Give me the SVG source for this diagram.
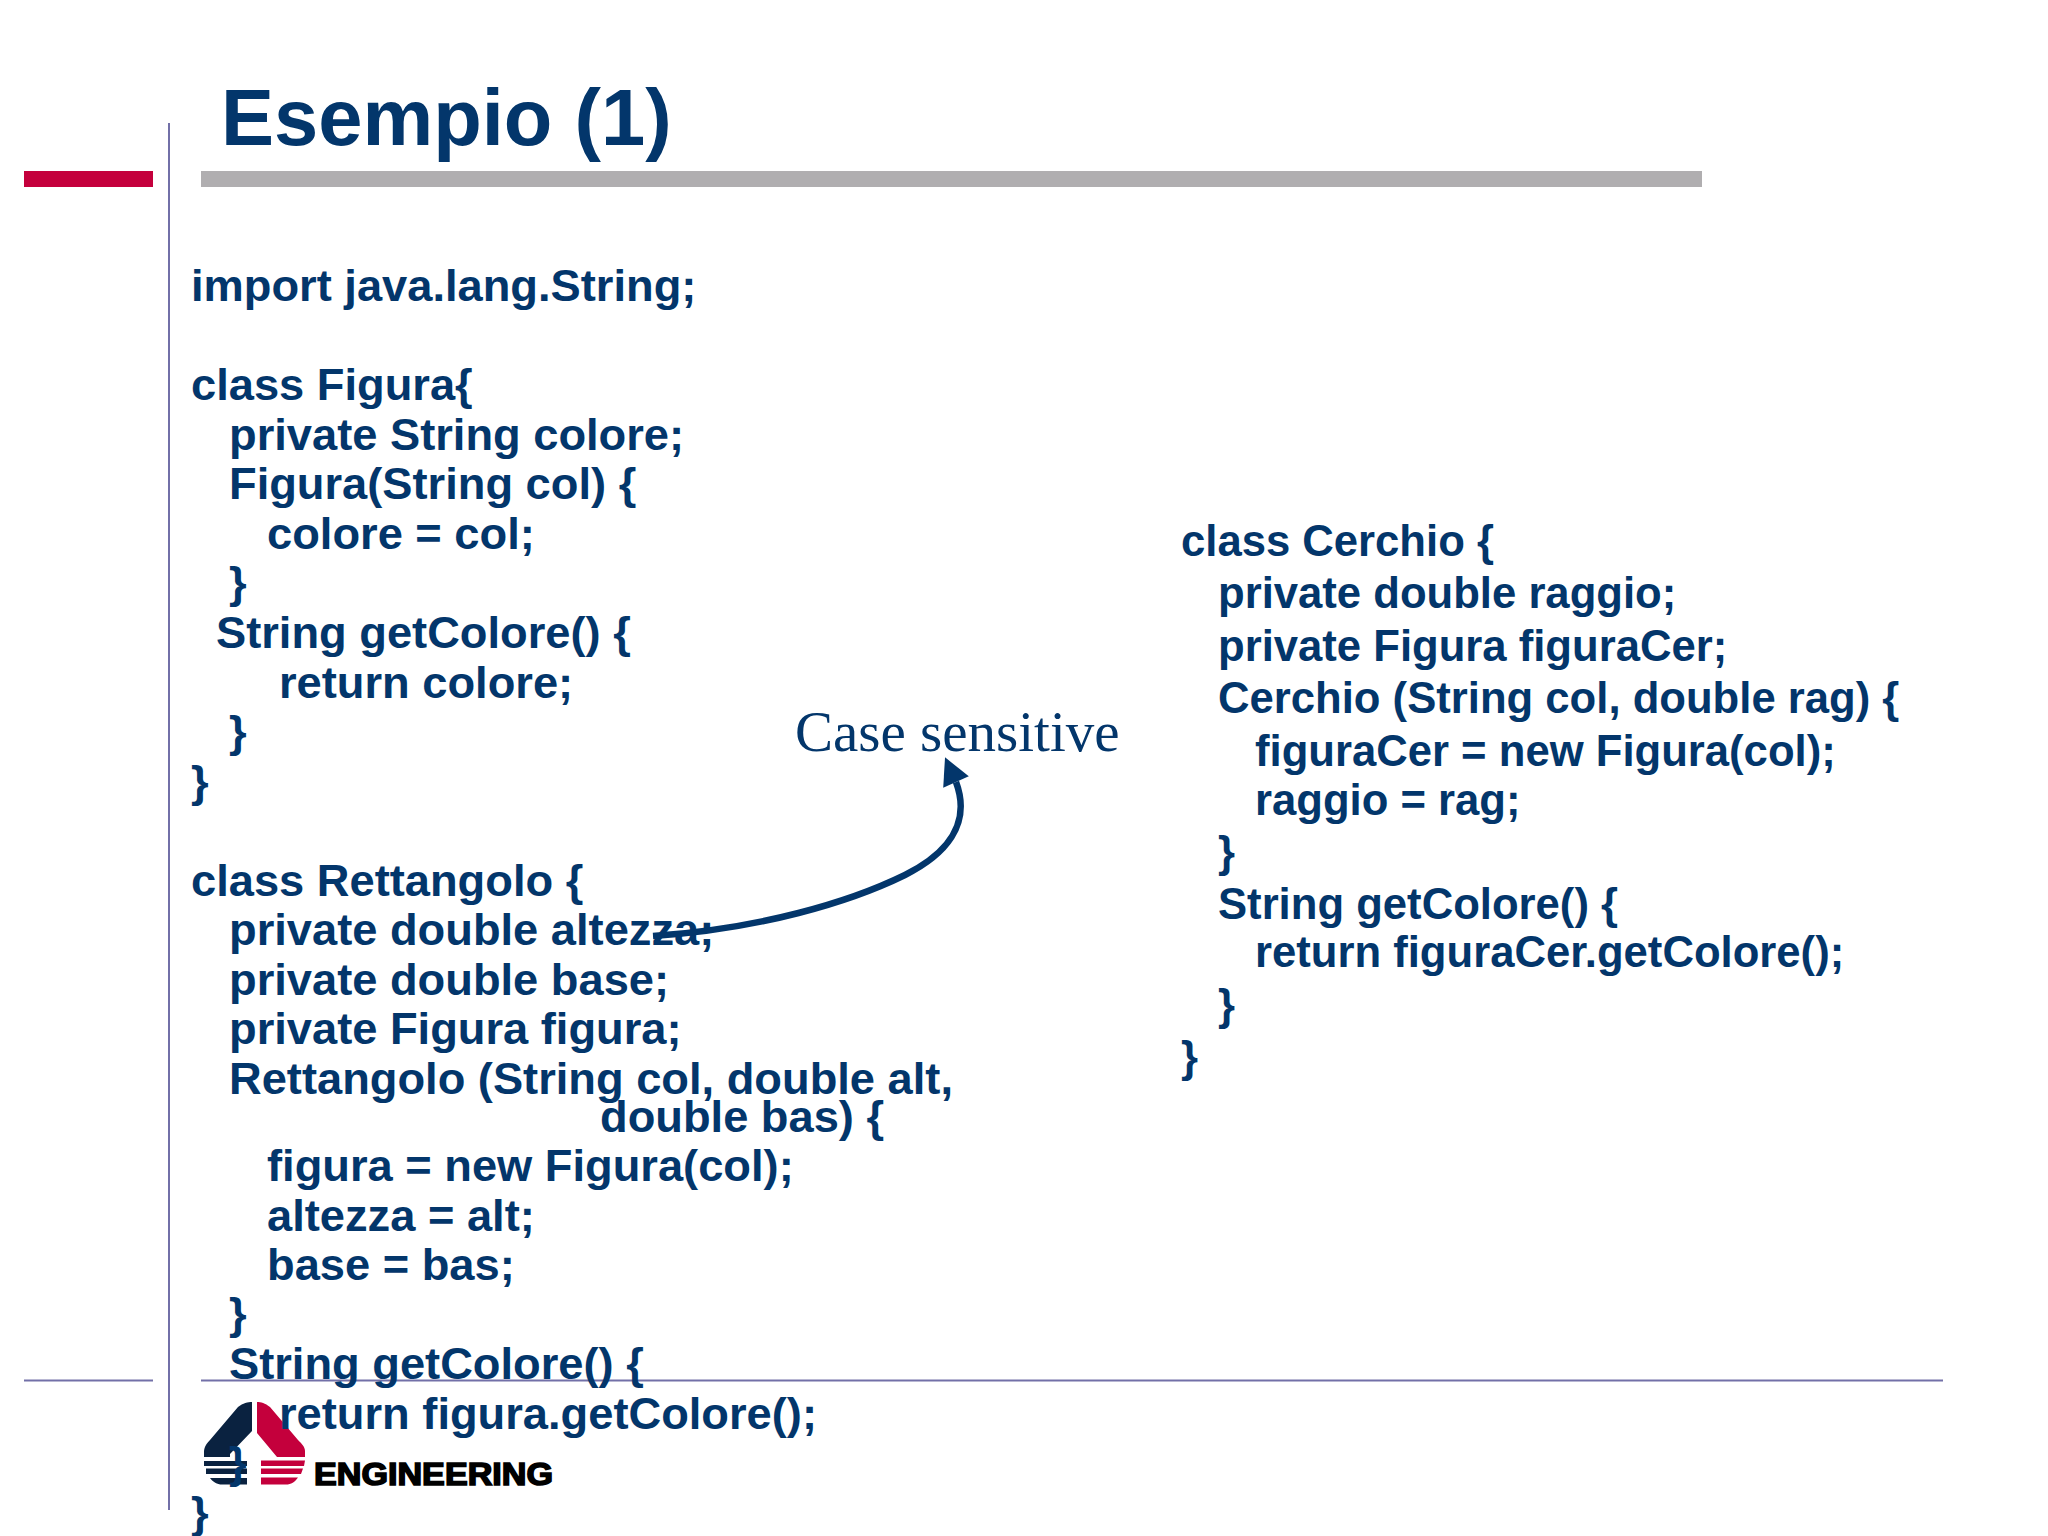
<svg xmlns="http://www.w3.org/2000/svg" width="2048" height="1536" viewBox="0 0 2048 1536">
<defs>
<style>
text{font-family:"Liberation Sans",Arial,sans-serif;font-weight:700;fill:#03366B}
.l{font-size:45.25px}
.r{font-size:43.65px}
.t{font-size:79.5px}
.s{font-family:"Liberation Serif","Times New Roman",serif;font-weight:400;font-size:57px}
.rule{stroke:#7270A8;stroke-width:2;fill:none}
</style>
<marker id="ah" markerUnits="userSpaceOnUse" markerWidth="30" markerHeight="32" refX="0" refY="15" orient="-114" overflow="visible"><path d="M0,1L27,15L0,29Z" fill="#03366B"/></marker>
</defs>
<rect width="2048" height="1536" fill="#fff"/>
<g id="frame">
<rect x="24" y="171" width="129" height="16" fill="#C4003C"/>
<rect x="201" y="171" width="1501" height="16" fill="#B0AEB0"/>
<path class="rule" d="M169,123V1510M24,1380.5H153M201,1380.5H1943"/>
</g>
<g id="logo">
<path fill="#0A2240" d="M252,1402V1431L230,1454V1457H204V1452C204,1447 207,1443 210,1440L238,1407C243,1403 248,1402 252,1402Z"/>
<path fill="#0A2240" d="M204,1461H247V1466H204ZM206,1468.5H247V1474H206ZM210,1478H247V1484.5H222C217,1484.5 213,1482 210,1478Z"/>
<path fill="#C4003C" d="M257,1402V1433L277,1457H305V1451C305,1447 302,1444 298,1440L270,1407C265,1403 261,1402 257,1402Z"/>
<path fill="#C4003C" d="M261,1460.5H305L304,1466H261ZM261,1468.5H303L301,1474H261ZM261,1477.5H298C295,1482 291,1484.5 286,1484.5H261Z"/>
<text x="314" y="1485" font-size="32" textLength="239" lengthAdjust="spacingAndGlyphs" style="fill:#000;stroke:#000;stroke-width:1.6">ENGINEERING</text>
</g>
<g id="title"><text class="t" x="221" y="145">Esempio (1)</text></g>
<g id="figura">
<text class="l" x="191" y="301">import java.lang.String;</text>
<text class="l" x="191" y="400">class Figura{</text>
<text class="l" x="229" y="450">private String colore;</text>
<text class="l" x="229" y="499">Figura(String col) {</text>
<text class="l" x="267" y="549">colore = col;</text>
<text class="l" x="229" y="598">}</text>
<text class="l" x="216" y="648">String getColore() {</text>
<text class="l" x="279" y="698">return colore;</text>
<text class="l" x="229" y="747">}</text>
<text class="l" x="191" y="797">}</text>
</g>
<g id="rettangolo">
<text class="l" x="191" y="896">class Rettangolo {</text>
<text class="l" x="229" y="945">private double altezza;</text>
<text class="l" x="229" y="995">private double base;</text>
<text class="l" x="229" y="1044">private Figura figura;</text>
<text class="l" x="229" y="1094">Rettangolo (String col, double alt,</text>
<text class="l" x="600" y="1132">double bas) {</text>
<text class="l" x="267" y="1181">figura = new Figura(col);</text>
<text class="l" x="267" y="1231">altezza = alt;</text>
<text class="l" x="267" y="1280">base = bas;</text>
<text class="l" x="229" y="1329">}</text>
<text class="l" x="229" y="1379">String getColore() {</text>
<text class="l" x="279" y="1429">return figura.getColore();</text>
<text class="l" x="229" y="1478">}</text>
<text class="l" x="191" y="1528">}</text>
</g>
<g id="cerchio">
<text class="r" x="1181" y="556">class Cerchio {</text>
<text class="r" x="1218" y="608">private double raggio;</text>
<text class="r" x="1218" y="661">private Figura figuraCer;</text>
<text class="r" x="1218" y="713">Cerchio (String col, double rag) {</text>
<text class="r" x="1255" y="766">figuraCer = new Figura(col);</text>
<text class="r" x="1255" y="815">raggio = rag;</text>
<text class="r" x="1218" y="867">}</text>
<text class="r" x="1218" y="919">String getColore() {</text>
<text class="r" x="1255" y="967">return figuraCer.getColore();</text>
<text class="r" x="1218" y="1020">}</text>
<text class="r" x="1181" y="1072">}</text>
</g>
<g id="note"><text class="s" x="795" y="751">Case sensitive</text></g>
<g id="connectors">
<path d="M653,936C760,929 850,902 905,875C945,855 972,825 956,782" fill="none" stroke="#03366B" stroke-width="6.5" marker-end="url(#ah)"/>
</g>
</svg>
